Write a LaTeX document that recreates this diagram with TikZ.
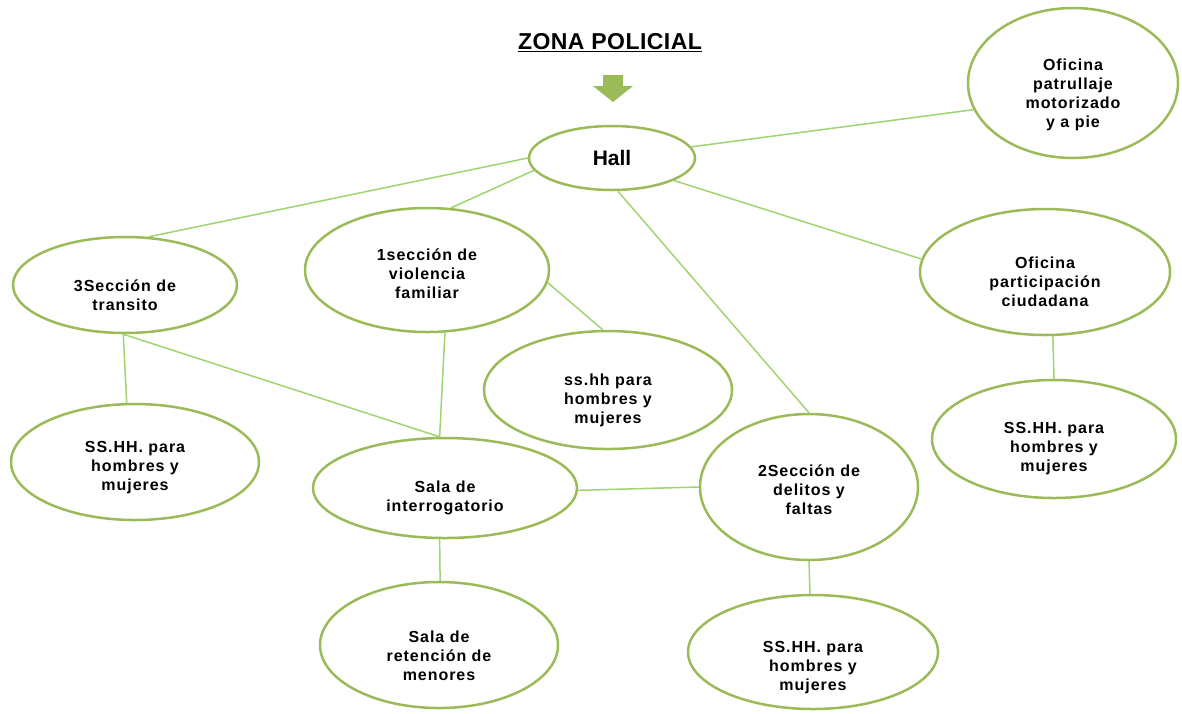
\documentclass[tikz,border=0pt]{standalone}
\usepackage{fontspec}
\setmainfont{Liberation Sans}
\usetikzlibrary{shapes}
\pgfdeclarelayer{background}
\pgfsetlayers{background,main}
\definecolor{roomgreen}{HTML}{9BBB59}
\definecolor{linegreen}{HTML}{A0D470}
\tikzstyle{room}=[ellipse,draw=roomgreen,line width=2.5pt,fill=white,inner sep=0pt]
\tikzstyle{roomtext}=[align=center,inner sep=0pt,font=\bfseries\fontsize{16}{19}\selectfont\addfontfeature{LetterSpace=6}]
\tikzstyle{edge} = [draw=linegreen,line width=1.5pt,-]

\begin{document}
\begin{tikzpicture}[x=1pt,y=-1pt]
    \useasboundingbox (0,0) rectangle (1182,713);
    % Title and the arrow down to the hall
    \node[font=\bfseries\fontsize{23}{27}\selectfont\addfontfeature{LetterSpace=2}] (titulo) at (610,43) {\underline{ZONA POLICIAL}};
    \fill[roomgreen] (603,75) -- (623,75) -- (623,86) -- (633,86) -- (613,102) -- (593,86) -- (603,86) -- cycle;
    % First we draw the rooms
    \foreach \pos/\name/\w/\h/\dy/\txt in {{(612,158)/hall/166/64/0/{\fontsize{21}{25}\selectfont\addfontfeature{LetterSpace=0}Hall}},
        {(1073,83)/patrullaje/210/150/-12/{Oficina\\patrullaje\\motorizado\\y a pie}},
        {(125,285)/transito/224/96/-10/{3Sección de\\transito}},
        {(427,270)/violencia/244/124/-4/{1sección de\\violencia\\familiar}},
        {(1045,272)/participacion/250/126/-10/{Oficina\\participación\\ciudadana}},
        {(608,390)/sshhA/248/118/-10/{ss.hh para\\hombres y\\mujeres}},
        {(135,462)/sshhB/248/116/-6/{SS.HH. para\\hombres y\\mujeres}},
        {(445,488)/interrogatorio/264/100/-10/{Sala de\\interrogatorio}},
        {(809,487)/delitos/218/146/-3/{2Sección de\\delitos y\\faltas}},
        {(1054,439)/sshhC/244/118/-10/{SS.HH. para\\hombres y\\mujeres}},
        {(439,645)/retencion/238/126/-11/{Sala de\\retención de\\menores}},
        {(813,652)/sshhD/250/114/-16/{SS.HH. para\\hombres y\\mujeres}}}
    {
        \node[room,minimum width=\w pt,minimum height=\h pt] (\name) at \pos {};
        \node[roomtext,yshift=\dy pt] (\name-t) at (\name) {\txt};
    }
    % Connect the rooms with edges
    \begin{pgfonlayer}{background}
    \foreach \source/ \dest in {hall.180/transito.64, hall.189/violencia.69, hall.8/patrullaje.195,
        hall.340/participacion.174, hall.280/delitos.90, transito.268/sshhB.98,
        transito.268/interrogatorio.96, violencia.286/interrogatorio.96, violencia.354/sshhA.95,
        interrogatorio.359/delitos.180, interrogatorio.264/retencion.89, delitos.270/sshhD.93,
        participacion.277/sshhC.90}
        \path[edge] (\source) -- (\dest) ;
    \end{pgfonlayer}
\end{tikzpicture}
\end{document}
